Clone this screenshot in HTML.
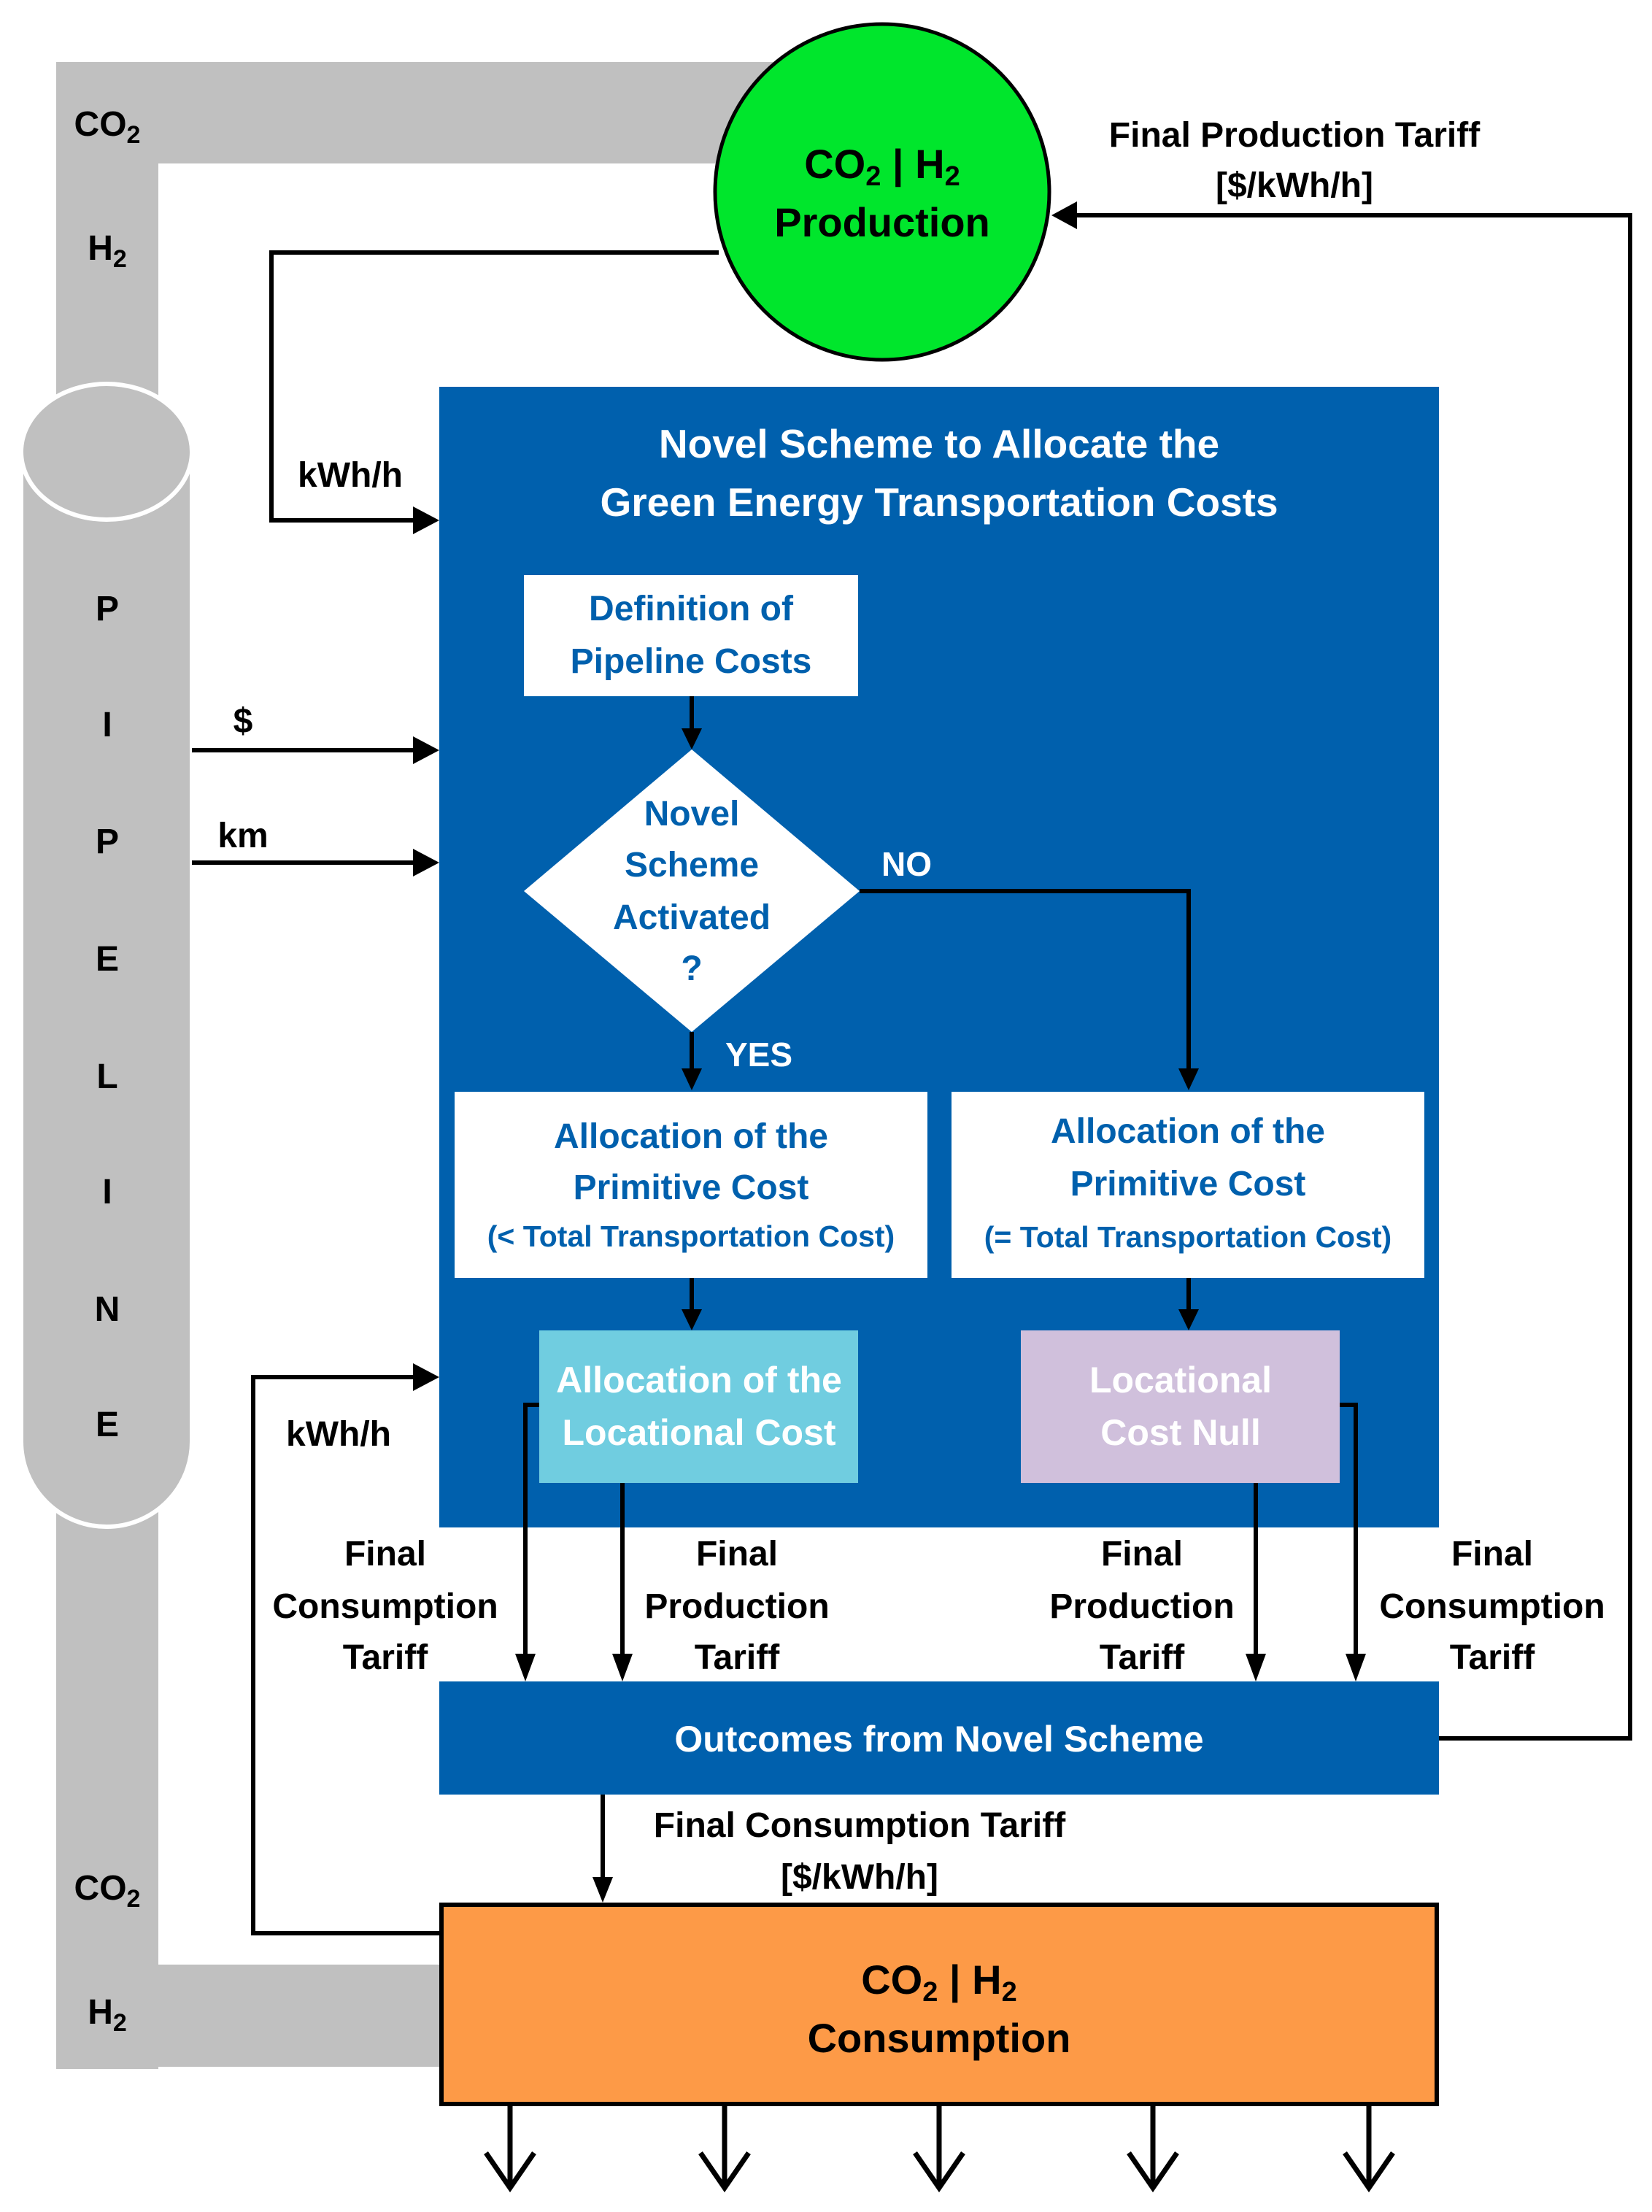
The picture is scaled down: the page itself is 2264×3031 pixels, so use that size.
<!DOCTYPE html>
<html><head><meta charset="utf-8"><style>
html,body{margin:0;padding:0;background:#fff}
svg{display:block}
text{font-family:"Liberation Sans",sans-serif;font-weight:bold}
</style></head><body>
<svg width="2264" height="3031" viewBox="0 0 2264 3031" xmlns="http://www.w3.org/2000/svg">
<!-- pipe -->
<rect x="77" y="85" width="1000" height="139" fill="#c0c0c0"/>
<rect x="77" y="85" width="140" height="2750" fill="#c0c0c0"/>
<rect x="77" y="2692" width="540" height="140" fill="#c0c0c0"/>
<path d="M29 619 L29 1975 A117 117 0 0 0 263 1975 L263 619 Z" fill="#c0c0c0" stroke="#fff" stroke-width="6"/>
<ellipse cx="146" cy="619" rx="117" ry="93" fill="#c0c0c0" stroke="#fff" stroke-width="6"/>
<g font-size="48" fill="#000" text-anchor="middle">
<text x="147" y="186">CO<tspan font-size="34" dy="10">2</tspan></text>
<text x="147" y="356">H<tspan font-size="34" dy="10">2</tspan></text>
<text x="147" y="2603">CO<tspan font-size="34" dy="10">2</tspan></text>
<text x="147" y="2773">H<tspan font-size="34" dy="10">2</tspan></text>
<text x="147" y="850">P</text><text x="147" y="1009">I</text><text x="147" y="1169">P</text><text x="147" y="1330">E</text>
<text x="147" y="1491">L</text><text x="147" y="1649">I</text><text x="147" y="1810">N</text><text x="147" y="1968">E</text>
</g>
<!-- circle -->
<ellipse cx="1209" cy="263" rx="229" ry="230" fill="#00e62c" stroke="#000" stroke-width="5"/>
<g font-size="56" text-anchor="middle" fill="#000">
<text x="1209" y="244">CO<tspan font-size="38" dy="10">2</tspan><tspan dy="-10"> | H</tspan><tspan font-size="38" dy="10">2</tspan></text>
<text x="1209" y="324">Production</text>
</g>
<!-- main box -->
<rect x="602" y="530" width="1370" height="1563" fill="#0060ad"/>
<g font-size="55" fill="#fff" text-anchor="middle">
<text x="1287" y="627">Novel Scheme to Allocate the</text>
<text x="1287" y="707">Green Energy Transportation Costs</text>
</g>
<rect x="718" y="788" width="458" height="166" fill="#fff"/>
<g font-size="48" fill="#0060ad" text-anchor="middle">
<text x="947" y="850">Definition of</text>
<text x="947" y="922">Pipeline Costs</text>
</g>
<polygon points="948,1027 1178,1221 948,1414 718,1221" fill="#fff"/>
<g font-size="48" fill="#0060ad" text-anchor="middle">
<text x="948" y="1131">Novel</text>
<text x="948" y="1201">Scheme</text>
<text x="948" y="1273">Activated</text>
<text x="948" y="1343">?</text>
</g>
<g font-size="46" fill="#fff">
<text x="1208" y="1200">NO</text>
<text x="994" y="1461">YES</text>
</g>
<rect x="623" y="1496" width="648" height="255" fill="#fff"/>
<rect x="1304" y="1496" width="648" height="255" fill="#fff"/>
<g fill="#0060ad" text-anchor="middle">
<text x="947" y="1573" font-size="48">Allocation of the</text>
<text x="947" y="1643" font-size="48">Primitive Cost</text>
<text x="947" y="1708" font-size="41">(&lt; Total Transportation Cost)</text>
<text x="1628" y="1566" font-size="48">Allocation of the</text>
<text x="1628" y="1638" font-size="48">Primitive Cost</text>
<text x="1628" y="1709" font-size="41">(= Total Transportation Cost)</text>
</g>
<rect x="739" y="1823" width="437" height="209" fill="#70cde0"/>
<rect x="1399" y="1823" width="437" height="209" fill="#d0c0dc"/>
<g font-size="50" fill="#fff" text-anchor="middle">
<text x="958" y="1908">Allocation of the</text>
<text x="958" y="1980">Locational Cost</text>
<text x="1618" y="1908">Locational</text>
<text x="1618" y="1980">Cost Null</text>
</g>
<!-- connectors -->
<g stroke="#000" stroke-width="6" fill="none">
<line x1="948" y1="954" x2="948" y2="1000"/>
<polyline points="1178,1221 1629,1221 1629,1466"/>
<line x1="948" y1="1414" x2="948" y2="1466"/>
<line x1="948" y1="1751" x2="948" y2="1796"/>
<line x1="1629" y1="1751" x2="1629" y2="1796"/>
<polyline points="739,1925 720,1925 720,2270"/>
<line x1="853" y1="2032" x2="853" y2="2270"/>
<line x1="1721" y1="2032" x2="1721" y2="2270"/>
<polyline points="1836,1925 1858,1925 1858,2270"/>
<polyline points="1972,2382 2234,2382 2234,295 1470,295"/>
<polyline points="985,346 372,346 372,713 574,713"/>
<line x1="263" y1="1028" x2="574" y2="1028"/>
<line x1="263" y1="1182" x2="574" y2="1182"/>
<polyline points="602,2649 347,2649 347,1887 574,1887"/>
<line x1="826" y1="2459" x2="826" y2="2578"/>
</g>
<g fill="#000">
<polygon points="934,998 962,998 948,1027"/>
<polygon points="1615,1464 1643,1464 1629,1494"/>
<polygon points="934,1464 962,1464 948,1494"/>
<polygon points="934,1794 962,1794 948,1823"/>
<polygon points="1615,1794 1643,1794 1629,1823"/>
<polygon points="706,2266 734,2266 720,2304"/>
<polygon points="839,2266 867,2266 853,2304"/>
<polygon points="1707,2266 1735,2266 1721,2304"/>
<polygon points="1844,2266 1872,2266 1858,2304"/>
<polygon points="1441,295 1476,276 1476,314"/>
<polygon points="602,713 566,694 566,732"/>
<polygon points="602,1028 566,1009 566,1047"/>
<polygon points="602,1182 566,1163 566,1201"/>
<polygon points="602,1887 566,1868 566,1906"/>
<polygon points="812,2572 840,2572 826,2607"/>
</g>
<g font-size="48" fill="#000" text-anchor="middle">
<text x="1774" y="201">Final Production Tariff</text>
<text x="1774" y="270">[$/kWh/h]</text>
<text x="480" y="667">kWh/h</text>
<text x="333" y="1004">$</text>
<text x="333" y="1161">km</text>
<text x="464" y="1981">kWh/h</text>
<text x="528" y="2145">Final</text><text x="528" y="2217">Consumption</text><text x="528" y="2287">Tariff</text>
<text x="1010" y="2145">Final</text><text x="1010" y="2217">Production</text><text x="1010" y="2287">Tariff</text>
<text x="1565" y="2145">Final</text><text x="1565" y="2217">Production</text><text x="1565" y="2287">Tariff</text>
<text x="2045" y="2145">Final</text><text x="2045" y="2217">Consumption</text><text x="2045" y="2287">Tariff</text>
<text x="1178" y="2517">Final Consumption Tariff</text>
<text x="1178" y="2588">[$/kWh/h]</text>
</g>
<rect x="602" y="2304" width="1370" height="155" fill="#0060ad"/>
<text x="1287" y="2400" font-size="50" fill="#fff" text-anchor="middle">Outcomes from Novel Scheme</text>
<rect x="605" y="2610" width="1364" height="273" fill="#fd9a47" stroke="#000" stroke-width="6"/>
<g font-size="56" fill="#000" text-anchor="middle">
<text x="1287" y="2732">CO<tspan font-size="38" dy="10">2</tspan><tspan dy="-10"> | H</tspan><tspan font-size="38" dy="10">2</tspan></text>
<text x="1287" y="2812">Consumption</text>
</g>
<g stroke="#000" stroke-width="7" fill="none">
<line x1="699" y1="2886" x2="699" y2="2998"/><polyline points="666,2950 699,2998 732,2950"/>
<line x1="993" y1="2886" x2="993" y2="2998"/><polyline points="960,2950 993,2998 1026,2950"/>
<line x1="1287" y1="2886" x2="1287" y2="2998"/><polyline points="1254,2950 1287,2998 1320,2950"/>
<line x1="1580" y1="2886" x2="1580" y2="2998"/><polyline points="1547,2950 1580,2998 1613,2950"/>
<line x1="1876" y1="2886" x2="1876" y2="2998"/><polyline points="1843,2950 1876,2998 1909,2950"/>
</g>
</svg>
</body></html>
